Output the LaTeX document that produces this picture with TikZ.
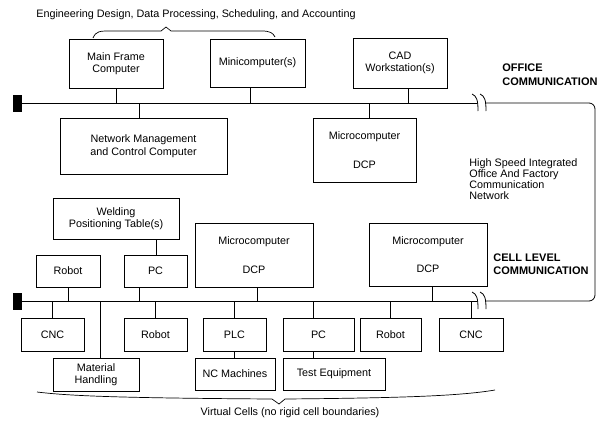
\documentclass[tikz,border=0pt]{standalone}
\usepackage{fontspec}
\setmainfont{Liberation Sans}
\usetikzlibrary{calc}

\tikzset{
	unit/.style={draw, inner sep=0pt, align=center},
	term/.style={fill=black, inner sep=0pt, minimum width=9pt, minimum height=17pt},
	caption/.style={inner sep=0pt, align=left, anchor=west},
}

% a ")" mark across a bus, at a named point of it
\newcommand{\busbreak}[1]{
	\draw ([shift={(-5,-9)}]#1) .. controls ([shift={(0,-7)}]#1) and ([shift={(1,-2)}]#1) .. ([shift={(1,8)}]#1);
}

\begin{document}
\begin{tikzpicture}[x=1pt, y=-1pt, line width=0.8pt, font=\fontsize{10.8}{12.5}\selectfont]
\useasboundingbox (0,0) rectangle (597,423);

\pgfmathsetmacro{\obus}{103}
\pgfmathsetmacro{\cbus}{301}

% office level
\node[unit, minimum width=94pt, minimum height=49pt] (main) at (116,63.5) {Main Frame\\Computer};
\node[unit, minimum width=95pt, minimum height=48pt] (mini) at (257.5,63) {Minicomputer(s)};
\node[unit, minimum width=94pt, minimum height=50pt] (cad) at (400,63) {CAD\\Workstation(s)};
\node[unit, minimum width=167pt, minimum height=56pt] (netm) at (143.5,146) {Network Management\\and Control Computer};
\node[unit, minimum width=103pt, minimum height=64pt] (omicro) at (364.5,150) {Microcomputer\\[16pt]DCP};

\node[term] (oterm) at (17.5,\obus) {};
\coordinate (obrk1) at (477,\obus);
\coordinate (obrk2) at (485,\obus);

% cell level
\node[unit, minimum width=126pt, minimum height=41pt] (weld) at (116,218.5) {Welding\\Positioning Table(s)};
\node[unit, minimum width=64pt, minimum height=32pt] (robota) at (68,271) {Robot};
\node[unit, minimum width=63pt, minimum height=32pt] (pca) at (155.5,271) {PC};
\node[unit, minimum width=118pt, minimum height=64pt] (cmicroa) at (254,255) {Microcomputer\\[16pt]DCP};
\node[unit, minimum width=118pt, minimum height=63pt] (cmicrob) at (428,254.5) {Microcomputer\\[16pt]DCP};

\node[unit, minimum width=63pt, minimum height=33pt] (cnca) at (52.5,334.5) {CNC};
\node[unit, minimum width=86pt, minimum height=33pt] (mat) at (96,374.5) {Material\\Handling};
\node[unit, minimum width=63pt, minimum height=33pt] (robotb) at (155.5,334.5) {Robot};
\node[unit, minimum width=63pt, minimum height=33pt] (plc) at (234.5,334.5) {PLC};
\node[unit, minimum width=80pt, minimum height=32pt] (nc) at (235,374) {NC Machines};
\node[unit, minimum width=71pt, minimum height=33pt] (pcb) at (318.5,334.5) {PC};
\node[unit, minimum width=102pt, minimum height=32pt] (test) at (334,374) {Test Equipment};
\node[unit, minimum width=61pt, minimum height=33pt] (robotc) at (390.5,334.5) {Robot};
\node[unit, minimum width=64pt, minimum height=33pt] (cncb) at (471,334.5) {CNC};

\node[term] (cterm) at (17.5,\cbus) {};
\coordinate (cbrk1) at (477,\cbus);
\coordinate (cbrk2) at (485,\cbus);

% buses and the loop joining them
\draw (oterm.east) -- (obrk1);
\draw (cterm.east) -- (cbrk1);
\busbreak{obrk1}
\busbreak{obrk2}
\busbreak{cbrk1}
\busbreak{cbrk2}
\draw[rounded corners=6pt] (obrk2) -- (595,\obus) -- (595,\cbus) -- (cbrk2);

% taps on the office bus
\draw (main) -- (main |- obrk1);
\draw ([xshift=-7.5pt]mini.south) -- ([xshift=-7.5pt]mini.south |- obrk1);
\draw ([xshift=8pt]cad.south) -- ([xshift=8pt]cad.south |- obrk1);
\draw ([xshift=-4.5pt]netm.north) -- ([xshift=-4.5pt]netm.north |- obrk1);
\draw ([xshift=4.5pt]omicro.north) -- ([xshift=4.5pt]omicro.north |- obrk1);

% taps on the cell bus
\draw (robota) -- (robota |- cbrk1);
\draw ([xshift=-16.5pt]pca.south) -- ([xshift=-16.5pt]pca.south |- cbrk1);
\draw ([xshift=40pt]weld.south) -- ([xshift=40pt]weld.south |- pca.north);
\draw ([xshift=3pt]cmicroa.south) -- ([xshift=3pt]cmicroa.south |- cbrk1);
\draw ([xshift=4pt]cmicrob.south) -- ([xshift=4pt]cmicrob.south |- cbrk1);
\draw (cnca) -- (cnca |- cbrk1);
\draw ([xshift=4pt]mat.north) -- ([xshift=4pt]mat.north |- cbrk1);
\draw (robotb) -- (robotb |- cbrk1);
\draw (plc) -- (plc |- cbrk1);
\draw (plc) -- (plc |- nc.north);
\draw ([xshift=-5.5pt]pcb.north) -- ([xshift=-5.5pt]pcb.north |- cbrk1);
\draw ([xshift=-5.5pt]pcb.south) -- ([xshift=-5.5pt]pcb.south |- test.north);
\draw (robotc) -- (robotc |- cbrk1);
\draw (cncb) -- (cncb |- cbrk1);

% braces
\draw[line width=0.7pt] (93,38) .. controls (96,31) and (100,31) .. (110,31) -- (161,31) -- (166,27) -- (171,31) -- (262,31) .. controls (270,31) and (273,33) .. (275,37);
\draw[line width=0.7pt] (37,392) .. controls (70,396) and (120,398) .. (272,399) -- (279,404) -- (285,399) .. controls (400,398) and (460,396) .. (495,390);

% labels
\node[inner sep=0pt] (apps) at (196,15) {Engineering Design, Data Processing, Scheduling, and Accounting};
\node[inner sep=0pt] (cells) at (290,413) {Virtual Cells (no rigid cell boundaries)};
\node[caption, font=\fontsize{11}{14}\selectfont\bfseries] (olabel) at (502,75) {OFFICE\\COMMUNICATION};
\node[caption, font=\fontsize{11}{13}\selectfont\bfseries] (clabel) at (493,264) {CELL LEVEL\\COMMUNICATION};
\node[caption, font=\fontsize{10.8}{11.2}\selectfont] (hsnet) at (469,179) {High Speed Integrated\\Office And Factory\\Communication\\Network};
\end{tikzpicture}
\end{document}
